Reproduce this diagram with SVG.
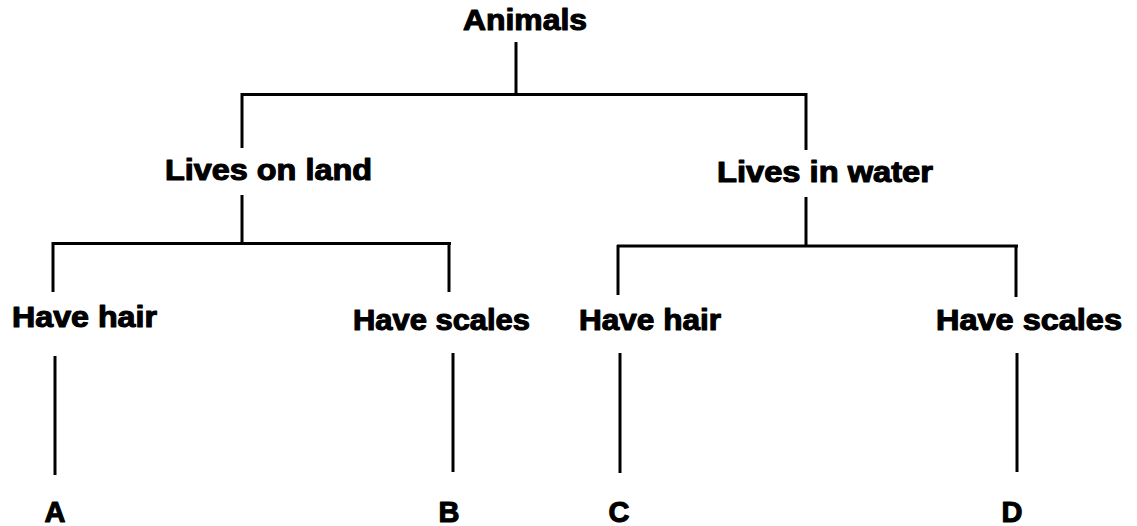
<svg xmlns="http://www.w3.org/2000/svg" width="1137" height="526" viewBox="0 0 1137 526">
<style>
.lbl{font-family:"Liberation Sans",Arial,sans-serif;font-weight:bold;font-size:29px;fill:#000;stroke:#000;stroke-width:1.1px;stroke-linejoin:round}
.ltr{text-anchor:middle}
.con line{stroke:#000;stroke-width:3;stroke-linecap:butt}
</style>
<rect width="1137" height="526" fill="#fff"/>
<g id="connectors" class="con">
<line x1="516" y1="42" x2="516" y2="95"/>
<line x1="241" y1="94.5" x2="807" y2="94.5"/>
<line x1="242" y1="93" x2="242" y2="148"/>
<line x1="806" y1="93" x2="806" y2="150"/>
<line x1="242" y1="195" x2="242" y2="244"/>
<line x1="52" y1="243.5" x2="451" y2="243.5"/>
<line x1="53" y1="242" x2="53" y2="292"/>
<line x1="449" y1="242" x2="449" y2="292"/>
<line x1="806" y1="197" x2="806" y2="247"/>
<line x1="617" y1="246" x2="1018" y2="246"/>
<line x1="618" y1="245" x2="618" y2="295"/>
<line x1="1016" y1="245" x2="1016" y2="297"/>
<line x1="55" y1="356" x2="55" y2="475"/>
<line x1="453" y1="353" x2="453" y2="472"/>
<line x1="620" y1="353" x2="620" y2="473"/>
<line x1="1017" y1="353" x2="1017" y2="472"/>
</g>
<g id="animals"><text class="lbl" x="463" y="30" textLength="124" lengthAdjust="spacingAndGlyphs">Animals</text></g>
<g id="lives-on-land"><text class="lbl" x="165" y="180" textLength="207" lengthAdjust="spacingAndGlyphs">Lives on land</text></g>
<g id="lives-in-water"><text class="lbl" x="717" y="182" textLength="216" lengthAdjust="spacingAndGlyphs">Lives in water</text></g>
<g id="land-hair"><text class="lbl" x="12" y="327" textLength="145" lengthAdjust="spacingAndGlyphs">Have hair</text></g>
<g id="land-scales"><text class="lbl" x="353" y="330" textLength="177" lengthAdjust="spacingAndGlyphs">Have scales</text></g>
<g id="water-hair"><text class="lbl" x="579" y="330" textLength="142" lengthAdjust="spacingAndGlyphs">Have hair</text></g>
<g id="water-scales"><text class="lbl" x="936" y="330" textLength="186" lengthAdjust="spacingAndGlyphs">Have scales</text></g>
<g id="a"><text class="lbl ltr" x="55" y="522">A</text></g>
<g id="b"><text class="lbl ltr" x="449" y="522">B</text></g>
<g id="c"><text class="lbl ltr" x="619" y="522">C</text></g>
<g id="d"><text class="lbl ltr" x="1012" y="522">D</text></g>
</svg>
